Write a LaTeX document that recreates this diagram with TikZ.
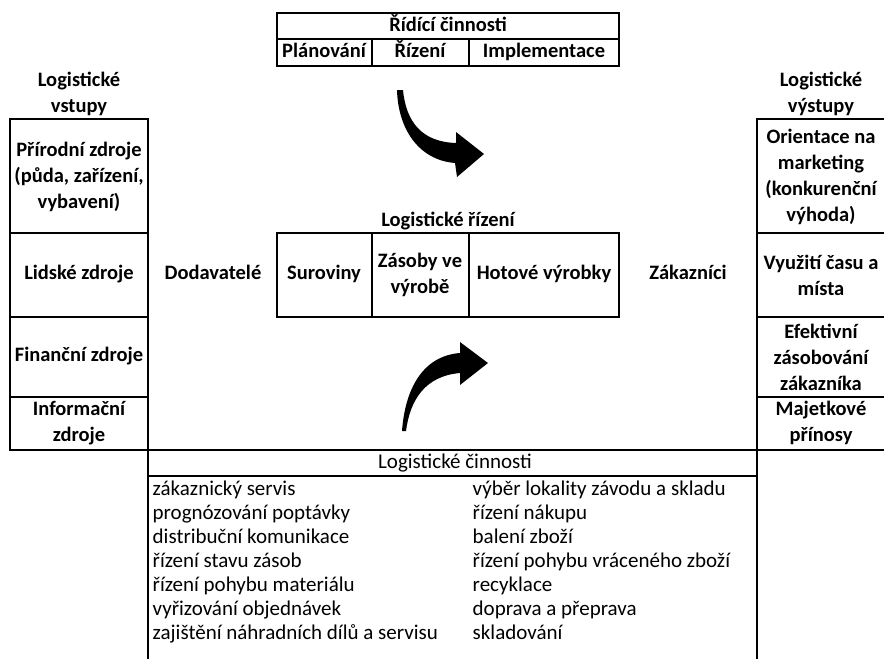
\documentclass[tikz,border=0pt]{standalone}
\usepackage{fontspec}
\setmainfont{Carlito}
\begin{document}
\begin{tikzpicture}[x=1pt, y=-1pt, line width=1.4pt,
    lab/.style={inner sep=0pt, align=center, font=\fontsize{20.5}{26}\selectfont\bfseries},
    labone/.style={lab, text height=14pt, text depth=5pt},
    item/.style={inner sep=0pt, anchor=west, text height=14pt, text depth=5pt,
      font=\fontsize{21}{24}\selectfont}]
    \useasboundingbox (0,0) rectangle (884,659);
    % ridici cinnosti
    \draw (277,13) rectangle (619,66);
    \draw (277,39) -- (619,39) (372,39) -- (372,66) (469,39) -- (469,66);
    \node[labone] (rc) at (448,27) {Řídící činnosti};
    \node[labone] (plan) at (324,53) {Plánování};
    \node[labone] (riz) at (420,53) {Řízení};
    \node[labone] (impl) at (544,53) {Implementace};
    % logisticke rizeni
    \node[labone] (lr) at (448,222) {Logistické řízení};
    \draw (277,233) rectangle (619,317);
    \draw (372,233) -- (372,317) (469,233) -- (469,317);
    \node[labone] (sur) at (324,275) {Suroviny};
    \node[lab] (zas) at (420,275) {Zásoby ve\\výrobě};
    \node[labone] (hot) at (544,275) {Hotové výrobky};
    \node[labone] (dod) at (213,275) {Dodavatelé};
    \node[labone] (zak) at (688,275) {Zákazníci};
    % vstupy
    \node[lab] (vst) at (79,94) {Logistické\\vstupy};
    \draw (10,119) rectangle (148,450);
    \draw (10,233) -- (148,233) (10,317) -- (148,317) (10,397) -- (148,397);
    \node[lab] (prir) at (79,177) {Přírodní zdroje\\(půda, zařízení,\\vybavení)};
    \node[labone] (lid) at (79,275) {Lidské zdroje};
    \node[labone] (fin) at (79,357) {Finanční zdroje};
    \node[lab] (inf) at (79,423) {Informační\\zdroje};
    % vystupy
    \node[lab] (vys) at (821,94) {Logistické\\výstupy};
    \draw (884,119) -- (757,119) -- (757,659);
    \draw (757,233) -- (884,233) (757,317) -- (884,317) (757,397) -- (884,397);
    \node[lab] (orient) at (821,177) {Orientace na\\marketing\\(konkurenční\\výhoda)};
    \node[lab] (vyuz) at (821,275) {Využití času a\\místa};
    \node[lab] (efekt) at (821,357) {Efektivní\\zásobování\\zákazníka};
    \node[lab] (majet) at (821,423) {Majetkové\\přínosy};
    % logisticke cinnosti
    \draw (10,450) -- (884,450);
    \draw (148,450) -- (148,659);
    \draw (148,476) -- (757,476);
    \node[item, anchor=center] (lc) at (455,464) {Logistické činnosti};
    \foreach \t [count=\i] in {zákaznický servis, prognózování poptávky,
        distribuční komunikace, řízení stavu zásob, řízení pohybu materiálu,
        vyřizování objednávek, zajištění náhradních dílů a servisu}
      \node[item] (la\i) at (152,467+24*\i) {\t};
    \foreach \t [count=\i] in {výběr lokality závodu a skladu, řízení nákupu,
        balení zboží, řízení pohybu vráceného zboží, recyklace,
        doprava a přeprava, skladování}
      \node[item] (lb\i) at (472,467+24*\i) {\t};
    % sipky
    \fill (403,90) .. controls (406,122) and (422,142) .. (456,143) -- (456,132) -- (484,154)
      -- (457,177) -- (455,163) .. controls (418,160) and (398,128) .. (397,90) -- cycle;
    \fill (402,431) .. controls (405,390) and (422,356) .. (460,353) -- (460,342) -- (488,363)
      -- (460,385) -- (460,373) .. controls (425,376) and (410,400) .. (406,431) -- cycle;
\end{tikzpicture}
\end{document}
